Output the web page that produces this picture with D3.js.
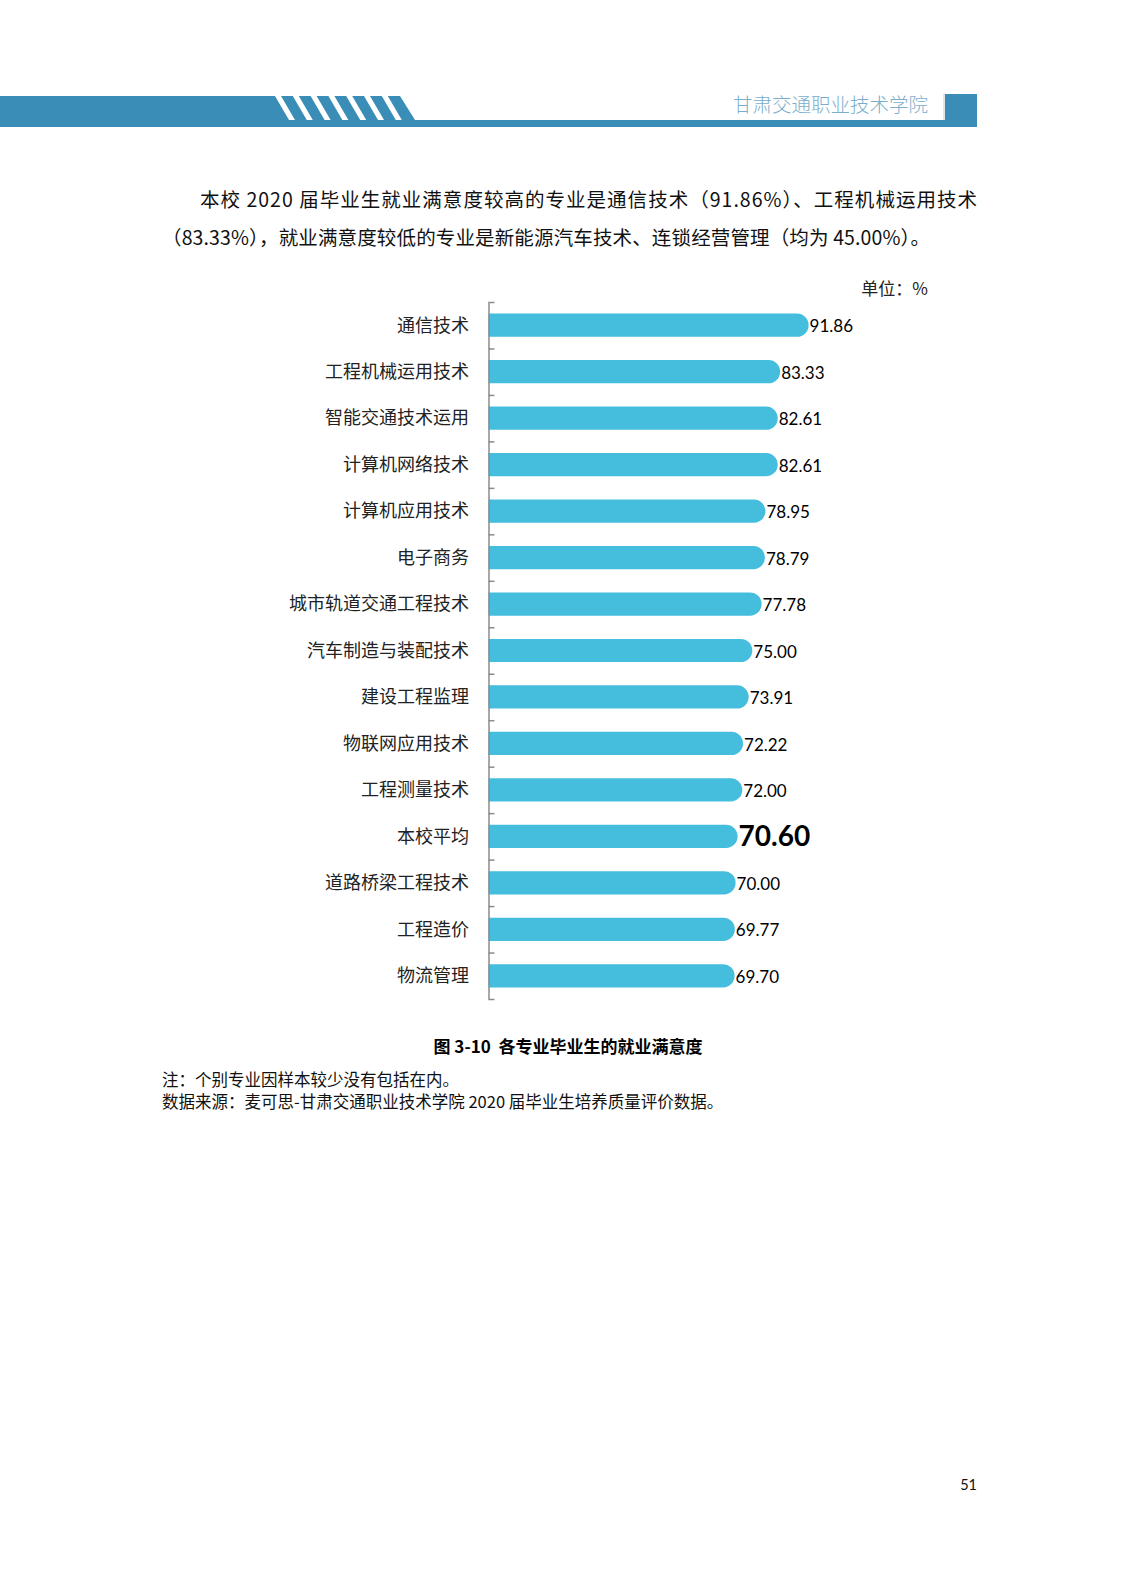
<!DOCTYPE html>
<html>
<head>
<meta charset="utf-8">
<script src="https://cdn.jsdelivr.net/npm/d3@7"></script>
<style>
  body { margin: 0; background: #fff; }
  text { white-space: pre; }
</style>
</head>
<body>
<div id="container"></div>
<script>
// Page and chart dimensions
const width = 1122;
const height = 1587;

const majors = ["通信技术", "工程机械运用技术", "智能交通技术运用", "计算机网络技术", "计算机应用技术",
  "电子商务", "城市轨道交通工程技术", "汽车制造与装配技术", "建设工程监理", "物联网应用技术",
  "工程测量技术", "本校平均", "道路桥梁工程技术", "工程造价", "物流管理"];
const satisfaction = [91.86, 83.33, 82.61, 82.61, 78.95, 78.79, 77.78, 75.00, 73.91, 72.22, 72.00, 70.60, 70.00, 69.77, 69.70];
const highlight = "本校平均";

const bodyLines = [
  "本校 2020 届毕业生就业满意度较高的专业是通信技术（91.86%）、工程机械运用技术",
  "（83.33%），就业满意度较低的专业是新能源汽车技术、连锁经营管理（均为 45.00%）。"
];
const caption = "图 3-10  各专业毕业生的就业满意度";
const notes = ["注：个别专业因样本较少没有包括在内。", "数据来源：麦可思-甘肃交通职业技术学院 2020 届毕业生培养质量评价数据。"];

const cjk = "'Noto Sans CJK SC', 'Noto Sans', sans-serif";
const latin = "Lato, 'Noto Sans CJK SC', sans-serif";

const svg = d3.select("#container").append("svg")
	.attr("width", width)
	.attr("height", height);

// Header band
const blue = "#3a8db6";
svg.append("rect").attr("x", 0).attr("y", 96).attr("width", 420).attr("height", 31).attr("fill", blue);
svg.append("rect").attr("x", 410).attr("y", 120).attr("width", 536).attr("height", 7).attr("fill", blue);
svg.append("path").attr("d", "M400,96 L421,96 L421,120 L415,120 Z").attr("fill", "#fff");
// diagonal white stripes
d3.range(7).forEach(i => {
	const s = 275 + i * 17.8;
	svg.append("path")
		.attr("d", `M${s},96 L${s + 6},96 L${s + 20},120 L${s + 14},120 Z`)
		.attr("fill", "#fff");
});
svg.append("rect").attr("x", 945).attr("y", 94).attr("width", 32).attr("height", 33).attr("fill", blue);
svg.append("line").attr("x1", 944).attr("x2", 944).attr("y1", 94).attr("y2", 120).attr("stroke", "#c8c8c8");
svg.append("text")
	.attr("x", 928).attr("y", 112)
	.attr("text-anchor", "end")
	.attr("font-family", cjk).attr("font-size", 19.5).attr("font-weight", 300)
	.attr("fill", "#7aaecb")
	.text("甘肃交通职业技术学院");

// Body paragraph
svg.append("text")
	.attr("x", 200).attr("y", 207)
	.attr("font-family", cjk).attr("font-size", 19.5).attr("fill", "#111")
	.attr("textLength", 777).attr("lengthAdjust", "spacing")
	.text(bodyLines[0]);
svg.append("text")
	.attr("x", 162).attr("y", 245)
	.attr("font-family", cjk).attr("font-size", 19.5).attr("fill", "#111")
	.attr("textLength", 768).attr("lengthAdjust", "spacing")
	.text(bodyLines[1]);

svg.append("text")
	.attr("x", 928).attr("y", 295)
	.attr("text-anchor", "end")
	.attr("font-family", cjk).attr("font-size", 17).attr("fill", "#222")
	.text("单位：%");

// Scales
const x = d3.scaleLinear()
	.domain([-4, 100])
	.range([488.5, 835.8]);

const y = d3.scaleBand()
	.domain(majors)
	.range([302, 999])
	.paddingInner(0.5)
	.paddingOuter(0.25);

const x0 = x(-4);
const bh = y.bandwidth();
const r = bh / 2;

// Bars with rounded right end
svg.append("g")
	.selectAll("path")
	.data(majors)
	.join("path")
		.attr("fill", "#45bddd")
		.attr("d", (d, i) => {
			const top = y(d), xe = x(satisfaction[i]);
			return `M${x0},${top} H${xe - r} A${r},${r} 0 0 1 ${xe - r},${top + bh} H${x0} Z`;
		});

// Axis with ticks between categories
const boundary = d3.scaleLinear().domain([0, majors.length]).range([302, 999]);
svg.append("g")
	.attr("transform", `translate(${x0},0)`)
	.call(d3.axisRight(boundary).tickValues(d3.range(1, majors.length)).tickFormat("").tickSizeInner(6).tickSizeOuter(6))
	.call(g => g.selectAll("path, line").attr("stroke", "#8c8c8c").attr("stroke-width", 1.5));

// Category labels
svg.append("g")
	.selectAll("text")
	.data(majors)
	.join("text")
		.attr("x", 469)
		.attr("y", d => y(d) + bh / 2)
		.attr("dy", "0.35em")
		.attr("text-anchor", "end")
		.attr("font-family", cjk).attr("font-size", 18).attr("fill", "#222")
		.text(d => d);

// Value labels
svg.append("g")
	.selectAll("text")
	.data(majors)
	.join("text")
		.attr("x", (d, i) => x(satisfaction[i]) + 1)
		.attr("y", d => y(d) + bh / 2)
		.attr("dy", d => d === highlight ? "0.36em" : "0.42em")
		.attr("font-family", latin)
		.attr("font-size", d => d === highlight ? 28 : 17)
		.attr("font-weight", d => d === highlight ? "bold" : "normal")
		.attr("fill", "#000")
		.text((d, i) => satisfaction[i].toFixed(2));

// Caption and notes
svg.append("text")
	.attr("x", 568).attr("y", 1053)
	.attr("text-anchor", "middle")
	.attr("font-family", cjk).attr("font-size", 17).attr("font-weight", "bold").attr("fill", "#000")
	.text(caption);
notes.forEach((t, i) => {
	svg.append("text")
		.attr("x", 162).attr("y", 1086 + i * 22)
		.attr("font-family", cjk).attr("font-size", 16.5).attr("fill", "#111")
		.text(t);
});

svg.append("text")
	.attr("x", 977).attr("y", 1490)
	.attr("text-anchor", "end")
	.attr("font-family", latin).attr("font-size", 14.5).attr("fill", "#111")
	.text("51");
</script>
</body>
</html>
